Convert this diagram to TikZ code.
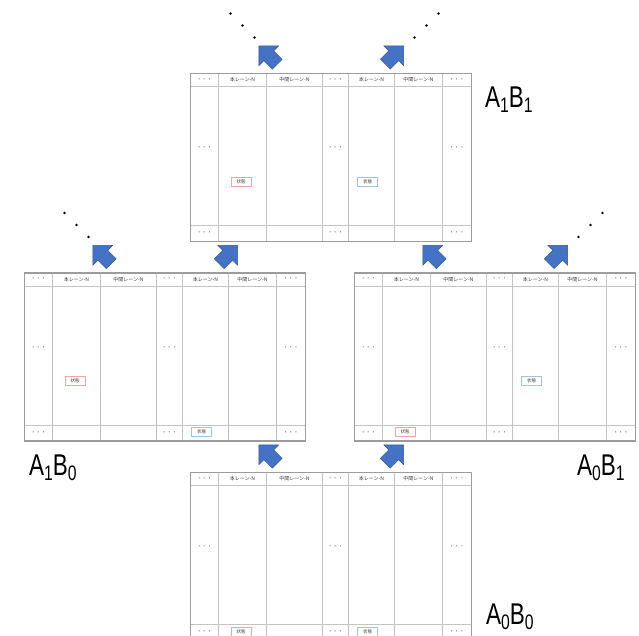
\documentclass[tikz,border=0pt]{standalone}
\usepackage{fontspec}
\setmainfont{Liberation Sans}
\newfontfamily\jpfont{Noto Sans CJK JP}
\newfontfamily\labfont[FakeStretch=0.75]{Liberation Sans}
\usetikzlibrary{calc}
\definecolor{lanegrid}{HTML}{C4C4C4}
\definecolor{laneframe}{HTML}{9C9C9C}
\definecolor{lanetext}{HTML}{3A3A3A}
\definecolor{lanered}{HTML}{F2A3A3}
\definecolor{laneblue}{HTML}{9DC3E6}
\definecolor{lanearrow}{HTML}{4472C4}
\definecolor{lanearrowline}{HTML}{2F5597}
\newcommand{\lanedots}{\textperiodcentered\hspace{3pt}\textperiodcentered\hspace{3pt}\textperiodcentered}
\newcommand{\lanesub}[1]{\raisebox{-5pt}{\fontsize{21}{21}\selectfont #1}}
\tikzset{
  gridbox/.style={draw=laneframe, line width=1.4pt, minimum width=281pt, minimum height=168pt, inner sep=0pt, outer sep=0pt},
  lanecol/.style={draw=lanegrid, line width=1pt},
  lanerow/.style={draw=lanegrid, line width=0.7pt},
  hdr/.style={font=\jpfont\fontsize{5}{5}\selectfont, text=lanetext, inner sep=0pt},
  lanedot/.style={font=\bfseries\fontsize{6.5}{6.5}\selectfont, text=lanetext!85, inner sep=0pt},
  statebox/.style={draw=#1, line width=0.9pt, minimum width=20pt, minimum height=9pt, inner sep=0pt, font=\jpfont\fontsize{4.5}{5}\selectfont, text=lanetext},
  blockarrow/.style={fill=lanearrow, draw=lanearrowline, line width=0.4pt},
  combo/.style={font=\labfont\fontsize{30}{30}\selectfont, inner sep=0pt, anchor=base west},
}
\begin{document}
\begin{tikzpicture}[x=1pt,y=-1pt]
  \clip (0,0) rectangle (639,635);
  % one lane grid per state: origin, A, B, red row, blue row, label, dots left/right
  \foreach \gx/\gy/\a/\b/\ry/\by/\lx/\ly/\dl/\dr in {190.5/73.5/1/1/108/108/485/107/1/1,24.5/273/1/0/108/159/29/475/1/0,354.5/273/0/1/159/108/577/475/0/1,190.5/472.5/0/0/159/159/486/624/0/0}
  {
    \begin{scope}[shift={(\gx,\gy)}]
      \foreach \c in {28,76,132,158,204,252} \draw[lanecol] (\c,0) -- (\c,168);
      \draw[lanerow] (0,13) -- (281,13) (0,152) -- (281,152);
      \node[gridbox, anchor=north west] (A\a B\b) at (0,0) {};
      \foreach \tx/\tt [count=\i] in {52/本レーン-N,104/中間レーン-N,181/本レーン-N,228/中間レーン-N}
        \node[hdr] (A\a B\b-h\i) at (\tx,6.5) {\tt};
      \foreach \tx [count=\i] in {14,145,266.5}
        { \node[lanedot] (A\a B\b-t\i) at (\tx,6.5) {\lanedots};
          \node[lanedot] (A\a B\b-m\i) at (\tx,75) {\lanedots};
          \node[lanedot] (A\a B\b-b\i) at (\tx,160) {\lanedots}; }
      \node[statebox=lanered] (A\a B\b-sa) at (50.5,\ry) {状態};
      \node[statebox=laneblue] (A\a B\b-sb) at (177,\by) {状態};
      % moves: up-left changes A, up-right changes B
      \path[blockarrow, shift={(78.25,-17.75)}, rotate=135] (14,0) -- (0,14) -- (0,7) -- (-12,7) -- (-12,-7) -- (0,-7) -- (0,-14) -- cycle;
      \path[blockarrow, shift={(203.25,-17.75)}, rotate=45] (14,0) -- (0,14) -- (0,7) -- (-12,7) -- (-12,-7) -- (0,-7) -- (0,-14) -- cycle;
      \ifnum\dl=1 \foreach \p in {(40,-60),(52,-48),(64,-36)} \fill \p circle[radius=1.4pt]; \fi
      \ifnum\dr=1 \foreach \p in {(224,-36),(236,-48),(248,-60)} \fill \p circle[radius=1.4pt]; \fi
    \end{scope}
    \node[combo] (A\a B\b-lab) at (\lx,\ly) {A\lanesub{\a}B\lanesub{\b}};
  }
\end{tikzpicture}
\end{document}
